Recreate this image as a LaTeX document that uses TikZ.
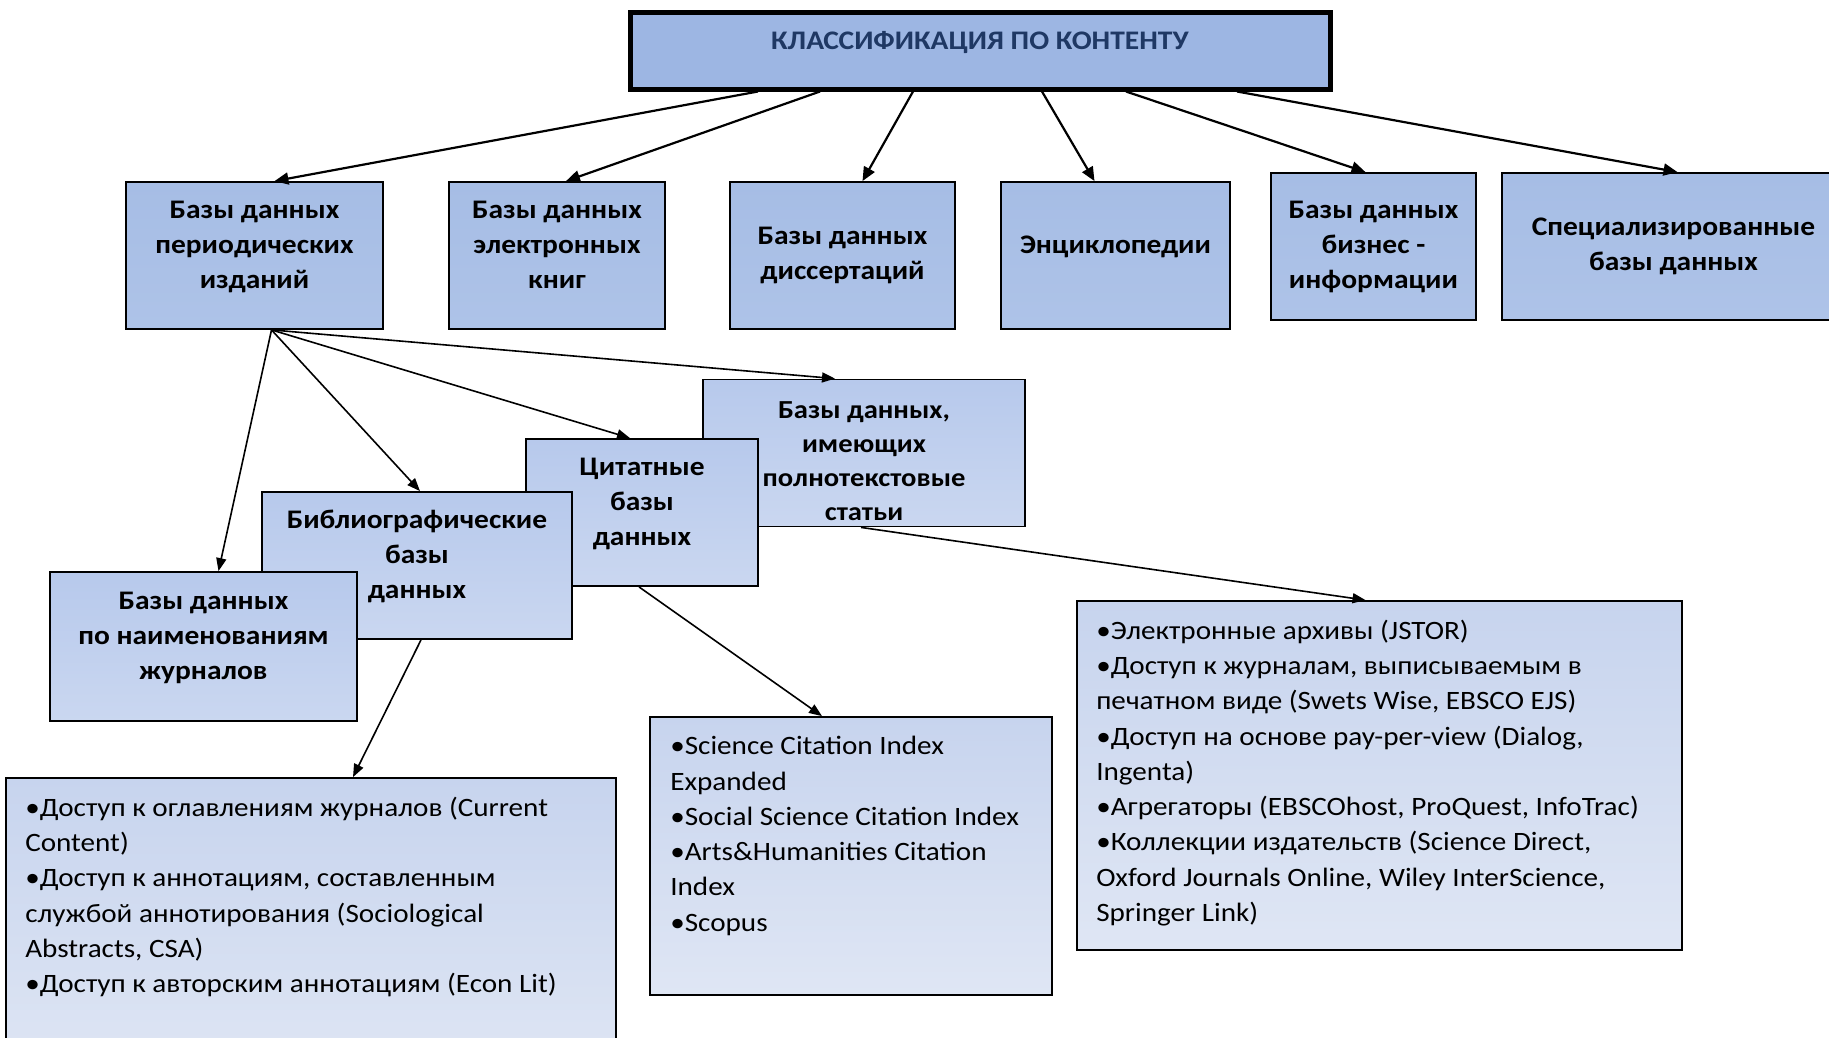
\documentclass[tikz,border=0pt]{standalone}
\usepackage{fontspec}
\setmainfont{Carlito}[FakeStretch=1.1]
\usetikzlibrary{arrows.meta}

\definecolor{titleblue}{RGB}{157,182,227}
\definecolor{titletext}{RGB}{31,56,100}
\definecolor{cattop}{RGB}{166,189,229}
\definecolor{catbot}{RGB}{174,195,232}
\definecolor{subtop}{RGB}{183,201,236}
\definecolor{subbot}{RGB}{202,215,240}
\definecolor{listtop}{RGB}{199,212,238}
\definecolor{listbot}{RGB}{223,230,244}

\tikzset{
  headbox/.style={draw, line width=5pt, fill=titleblue, text=titletext,
    font=\fontsize{26.8}{32}\selectfont\bfseries, text depth=20pt},
  catbox/.style={draw, line width=1.8pt, top color=cattop, bottom color=catbot,
    align=center, minimum height=147,
    font=\fontsize{26.8}{35}\selectfont\bfseries},
  subbox/.style={catbox, top color=subtop, bottom color=subbot},
  lift/.style={text depth=#1},
  lift/.default=22pt,
  listbox/.style={draw, line width=1.8pt, top color=listtop, bottom color=listbot},
  listtext/.style={anchor=north west, align=left, inner sep=0pt,
    font=\fontsize{26.5}{35.3}\selectfont},
  arr/.style={-{Triangle[length=14pt,width=12pt]}, line width=2.2pt},
  subarr/.style={-{Triangle[length=13pt,width=10pt]}, line width=1.6pt}
}

\begin{document}
\begin{tikzpicture}[x=1pt,y=-1pt]
  \useasboundingbox (0,0) rectangle (1829,1037);

  \node[headbox, minimum width=700, minimum height=77] (title) at (980,50.5) {КЛАССИФИКАЦИЯ ПО КОНТЕНТУ};

  \node[catbox, lift, minimum width=257] (per) at (254.5,255.5) {Базы данных\\периодических\\изданий};
  \node[catbox, lift, minimum width=216] (ebook) at (557,255.5) {Базы данных\\электронных\\книг};
  \node[catbox, minimum width=225] (diss) at (842.5,255.5) {Базы данных\\диссертаций};
  \node[catbox, lift, minimum width=229] (enc) at (1115.5,255.5) {Энциклопедии};
  \node[catbox, minimum width=205] (bus) at (1373.5,246.5) {Базы данных\\бизнес -\\информации};
  \node[catbox, minimum width=343] (spec) at (1673.5,246.5) {Специализированные\\базы данных};

  \node[subbox, lift=0pt, text height=134pt, minimum width=322, font=\fontsize{26}{34}\selectfont\bfseries] (full) at (864,453) {Базы данных,\\имеющих\\полнотекстовые\\статьи};
  \node[subbox, lift, minimum width=232] (cit) at (642,512.5) {Цитатные\\базы\\данных};
  \node[subbox, lift, minimum width=310] (bib) at (417,565.5) {Библиографические\\базы\\данных};
  \node[subbox, lift, minimum width=307, minimum height=149] (jour) at (203.5,646.5) {Базы данных\\по наименованиям\\журналов};

  \node[listbox, minimum width=610, minimum height=300] (biblist) at (311,928) {};
  \node[listtext] (biblisttxt) at ([shift={(20,19.5)}]biblist.north west)
    {•Доступ к оглавлениям журналов (Current\\Content)\\•Доступ к аннотациям, составленным\\службой аннотирования (Sociological\\Abstracts, CSA)\\•Доступ к авторским аннотациям (Econ Lit)};
  \node[listbox, minimum width=402, minimum height=278] (citlist) at (851,856) {};
  \node[listtext] (citlisttxt) at ([shift={(21,20)}]citlist.north west)
    {•Science Citation Index\\Expanded\\•Social Science Citation Index\\•Arts\&Humanities Citation\\Index\\•Scopus};
  \node[listbox, minimum width=605, minimum height=349] (fulllist) at (1379.5,775.5) {};
  \node[listtext] (fulllisttxt) at ([shift={(20,19.5)}]fulllist.north west)
    {•Электронные архивы (JSTOR)\\•Доступ к журналам, выписываемым в\\печатном виде (Swets Wise, EBSCO EJS)\\•Доступ на основе pay-per-view (Dialog,\\Ingenta)\\•Агрегаторы (EBSCOhost, ProQuest, InfoTrac)\\•Коллекции издательств (Science Direct,\\Oxford Journals Online, Wiley InterScience,\\Springer Link)};

  \foreach \s/\t/\o in {-222/per/20, -160/ebook/9, -67/diss/20, 62/enc/-21, 146/bus/-8, 257/spec/4}
    \draw[arr] ([xshift=\s]title.south) -- ([xshift=\o]\t.north);

  \foreach \t/\o in {jour/15, bib/3, cit/-12, full/-29}
    \draw[subarr] ([xshift=17]per.south) -- ([xshift=\o]\t.north);
  \draw[subarr] ([xshift=4]bib.south) -- ([xshift=42]biblist.north);
  \draw[subarr] ([xshift=-3]cit.south) -- ([xshift=-29]citlist.north);
  \draw[subarr] ([xshift=-3]full.south) -- ([xshift=-14]fulllist.north);
\end{tikzpicture}
\end{document}
